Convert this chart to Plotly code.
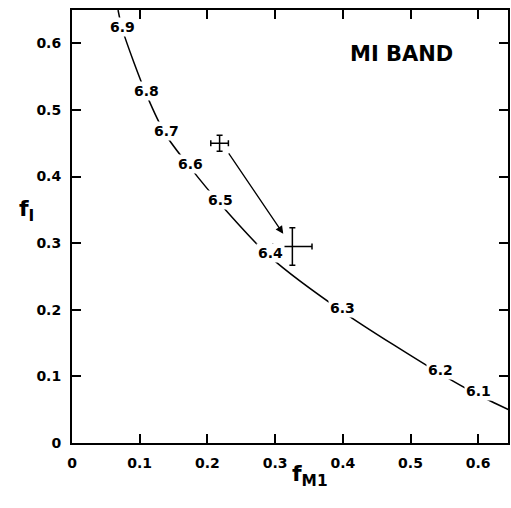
import plotly.graph_objects as go

# Curve (fraction f_M1 vs f_I), with labelled points
curve_x = [0.068, 0.075, 0.110, 0.139, 0.175, 0.219, 0.293, 0.400, 0.544, 0.600, 0.645]
curve_y = [0.650, 0.619, 0.523, 0.462, 0.413, 0.359, 0.279, 0.197, 0.104, 0.072, 0.050]

label_x = [0.075, 0.110, 0.139, 0.175, 0.219, 0.293, 0.400, 0.544, 0.600]
label_y = [0.619, 0.523, 0.462, 0.413, 0.359, 0.279, 0.197, 0.104, 0.072]
label_text = ["6.9", "6.8", "6.7", "6.6", "6.5", "6.4", "6.3", "6.2", "6.1"]

# Measured points with error bars
pt_x = [0.218, 0.3255]
pt_y = [0.450, 0.295]
pt_xerr = [0.013, 0.029]
pt_yerr = [0.012, 0.028]

# Arrow from first point to second
arrow_from = (0.230, 0.437)
arrow_to = (0.312, 0.314)

xticks = [0, 0.1, 0.2, 0.3, 0.4, 0.5, 0.6]
xtick_text = ["0", "0.1", "0.2", "0.3", "0.4", "0.5", "0.6"]
yticks = [0, 0.1, 0.2, 0.3, 0.4, 0.5, 0.6]
ytick_text = ["0", "0.1", "0.2", "0.3", "0.4", "0.5", "0.6"]

FONT = "DejaVu Sans"

fig = go.Figure()
fig.add_trace(go.Scatter(
    x=curve_x, y=curve_y, mode="lines",
    line=dict(color="black", width=1.5, shape="spline", smoothing=0.8),
    hoverinfo="skip", showlegend=False,
))
fig.add_trace(go.Scatter(
    x=pt_x, y=pt_y, mode="markers",
    marker=dict(size=1, color="black"),
    error_x=dict(type="data", array=pt_xerr, color="black", thickness=1.5, width=3),
    error_y=dict(type="data", array=pt_yerr, color="black", thickness=1.5, width=3),
    showlegend=False,
))

annotations = []
for lx, ly, lt in zip(label_x, label_y, label_text):
    annotations.append(dict(
        x=lx, y=ly, xref="x", yref="y", text=lt, showarrow=False,
        font=dict(family=FONT, size=14, color="black", weight="bold"),
        bgcolor="white", borderpad=1, yshift=4,
    ))

annotations.append(dict(
    x=arrow_to[0], y=arrow_to[1], ax=arrow_from[0], ay=arrow_from[1],
    xref="x", yref="y", axref="x", ayref="y", text="",
    showarrow=True, arrowhead=2, arrowsize=1.2, arrowwidth=1.3, arrowcolor="black",
))

annotations.append(dict(
    x=0.487, y=0.584, xref="x", yref="y", text="MI BAND", showarrow=False,
    font=dict(family=FONT, size=21, color="black", weight="bold"),
))
annotations.append(dict(
    x=-0.126, y=0.538, xref="paper", yref="paper", text="f<sub>I</sub>", showarrow=False,
    font=dict(family=FONT, size=22, color="black", weight="bold"),
))
annotations.append(dict(
    x=0.546, y=-0.113, xref="paper", yref="paper", text="f<sub>M1</sub>", showarrow=False,
    font=dict(family=FONT, size=22, color="black", weight="bold"),
))

axis_common = dict(
    showgrid=False, zeroline=False, showline=True, linecolor="black", linewidth=2,
    mirror="allticks", ticks="inside", ticklen=9, tickwidth=1.5, tickcolor="black",
    tickfont=dict(family=FONT, size=14, color="black", weight="bold"),
)

fig.update_layout(
    width=511, height=508,
    margin=dict(l=72, r=1, t=10, b=65),
    paper_bgcolor="white", plot_bgcolor="white",
    xaxis=dict(range=[0, 0.644], tickvals=xticks, ticktext=xtick_text,
               ticklabelstandoff=6, **axis_common),
    yaxis=dict(range=[0, 0.650], tickvals=yticks, ticktext=ytick_text,
               ticklabelstandoff=6, **axis_common),
    annotations=annotations,
    showlegend=False,
)

fig.write_html("out.html")
